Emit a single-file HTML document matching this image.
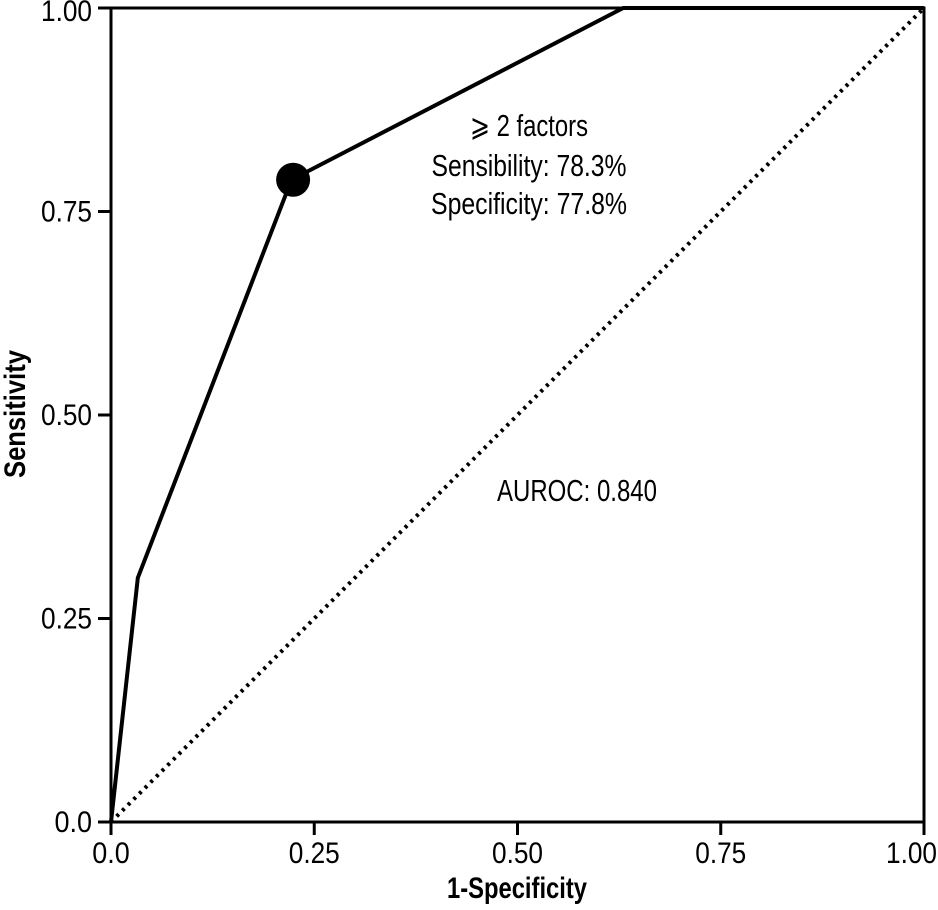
<!DOCTYPE html>
<html><head><meta charset="utf-8"><style>
html,body{margin:0;padding:0;background:#fff;}
svg{display:block;font-family:"Liberation Sans",sans-serif;}
</style></head><body>
<svg width="938" height="910" viewBox="0 0 938 910">
<g id="axes"></g>
<g id="marks"></g>
<g id="labels"></g>
</svg>
<script>
const fprValues=[0,0.033,0.222,0.63,1];
const tprValues=[0,0.30,0.789,1,1];
const cutoffPoint=[0.224,0.789];
const tickValues=[0,0.25,0.5,0.75,1];
const tickLabels=["0.0","0.25","0.50","0.75","1.00"];
const aurocLabel="AUROC: 0.840";
const NS="http://www.w3.org/2000/svg";
const X0=111,X1=924,Y0=822,Y1=8;
const sx=v=>X0+v*(X1-X0), sy=v=>Y0-v*(Y0-Y1);
function mk(parent,tag,attrs,text){const e=document.createElementNS(NS,tag);for(const k in attrs)e.setAttribute(k,attrs[k]);if(text!=null)e.textContent=text;document.getElementById(parent).appendChild(e);return e;}
let f=mk('axes','rect',{x:X0,y:Y1,width:X1-X0,height:Y0-Y1,fill:'none',stroke:'#000','stroke-width':3});


tickValues.forEach((v,i)=>{
 let t=mk('axes','line',{x1:sx(v),x2:sx(v),y1:Y0,y2:Y0+13,stroke:'#000','stroke-width':3});
 
 
 t=mk('axes','line',{x1:X0-13,x2:X0,y1:sy(v),y2:sy(v),stroke:'#000','stroke-width':3});
 
 
 const L=tickLabels[i];const len=L.length*13.5-3;
 let xx=sx(v),anc='middle';
 if(xx+len/2>937){xx=937;anc='end';}
 t=mk('labels','text',{x:xx,y:863,'text-anchor':anc,'font-size':30,textLength:len,lengthAdjust:'spacingAndGlyphs'},L);
 
 
 let yy=Math.max(sy(v)+10,21);
 t=mk('labels','text',{x:92,y:yy,'text-anchor':'end','font-size':30,textLength:len,lengthAdjust:'spacingAndGlyphs'},L);
 
 
});
let d=mk('marks','line',{x1:sx(0),y1:sy(0),x2:sx(1),y2:sy(1),stroke:'#000','stroke-width':4,'stroke-dasharray':'3 5'});


let p=mk('marks','polyline',{points:fprValues.map((v,i)=>sx(v)+','+sy(tprValues[i])).join(' '),fill:'none',stroke:'#000','stroke-width':4,'stroke-linejoin':'miter'});


let c=mk('marks','circle',{cx:sx(cutoffPoint[0]),cy:sy(cutoffPoint[1]),r:17,fill:'#000'});


const ann=[["⩾ 2 factors",136,118],["Sensibility: 78.3%",176,195],["Specificity: 77.8%",214,196]];
ann.forEach(a=>{let t=mk('labels','text',{x:529,y:a[1],'text-anchor':'middle','font-size':31,textLength:a[2],lengthAdjust:'spacingAndGlyphs'},a[0]);
 
 });
let au=mk('labels','text',{x:577,y:501,'text-anchor':'middle','font-size':31,textLength:160,lengthAdjust:'spacingAndGlyphs'},aurocLabel);


let xt=mk('labels','text',{x:517,y:898,'text-anchor':'middle','font-size':30,'font-weight':'bold',textLength:140,lengthAdjust:'spacingAndGlyphs'},"1-Specificity");


let yt=mk('labels','text',{x:0,y:0,'text-anchor':'middle','font-size':30,'font-weight':'bold',textLength:128,lengthAdjust:'spacingAndGlyphs',transform:'translate(25,414) rotate(-90)'},"Sensitivity");


</script>
</body></html>
